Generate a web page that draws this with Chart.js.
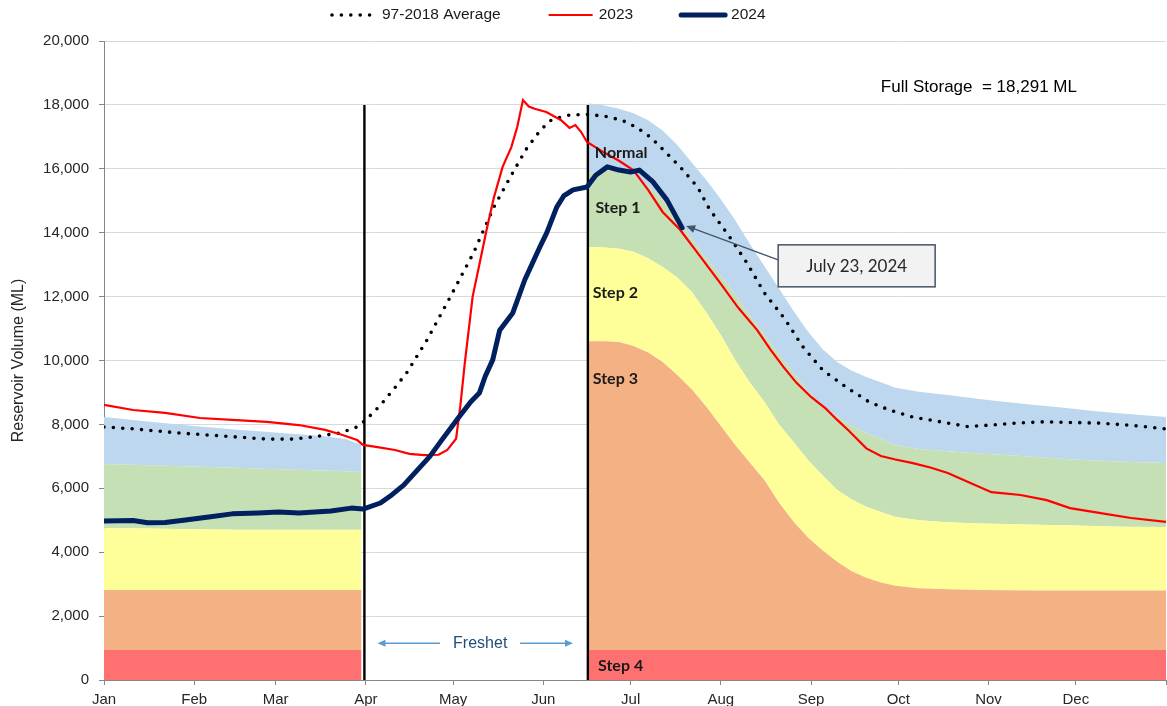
<!DOCTYPE html>
<html>
<head>
<meta charset="utf-8">
<title>Reservoir Volume</title>
<script src="https://cdn.jsdelivr.net/npm/chart.js@4.4.0/dist/chart.umd.min.js"></script>
<style>
  html, body { margin: 0; padding: 0; background: #fff; }
  #wrap { width: 1167px; height: 706px; }
</style>
</head>
<body>
<div id="wrap"><canvas id="chart" width="1167" height="706"></canvas></div>
<script>
// x axis is day of year (0 = Jan 1), y is reservoir volume in ML
const monthStarts = [0, 31, 59, 90, 120, 151, 181, 212, 243, 273, 304, 334, 365];
const monthNames = ['Jan', 'Feb', 'Mar', 'Apr', 'May', 'Jun', 'Jul', 'Aug', 'Sep', 'Oct', 'Nov', 'Dec', ''];

// 97-2018 average
const avgDays = [0, 10, 26, 45, 56, 65, 72, 81, 87, 90, 95, 100, 104, 111, 119, 127, 134, 140, 145, 150, 154, 160, 166, 172, 178, 183, 188, 193, 198, 204, 208, 215, 221, 227, 234, 240, 247, 255, 263, 270, 278, 290, 297, 305, 313, 323, 333, 342, 352, 365];
const avgVals = [7920, 7860, 7730, 7610, 7540, 7540, 7610, 7730, 7920, 8140, 8600, 9150, 9610, 10640, 11990, 13370, 14800, 15800, 16600, 17210, 17550, 17680, 17700, 17650, 17520, 17300, 16980, 16520, 16060, 15430, 14750, 13870, 13050, 12110, 11300, 10450, 9700, 9170, 8700, 8450, 8230, 8040, 7930, 7980, 8040, 8080, 8060, 8040, 7980, 7860];

// 2023
const days2023 = [0, 10, 21, 33, 44, 56, 67, 76, 82, 87, 89, 94, 100, 105, 110, 115, 118, 121, 122.5, 124, 126.7, 129, 131.5, 134, 137, 140, 142, 144, 146, 148, 152, 157, 160, 162, 164, 166, 171.5, 177, 182, 187, 192, 198, 204, 212, 218, 224.5, 229, 233.5, 238, 243, 248, 252, 256, 262, 267, 272, 278, 284, 290, 297, 305, 315, 324, 332, 342, 353, 365];
const vals2023 = [8610, 8450, 8360, 8200, 8140, 8080, 7980, 7830, 7670, 7510, 7360, 7290, 7200, 7080, 7040, 7050, 7200, 7550, 8600, 9920, 12000, 13000, 14090, 15100, 16060, 16680, 17300, 18150, 17950, 17880, 17780, 17530, 17280, 17370, 17150, 16840, 16530, 16250, 15950, 15340, 14650, 14090, 13370, 12400, 11650, 10950, 10350, 9800, 9300, 8860, 8500, 8140, 7800, 7250, 7010, 6900, 6790, 6650, 6480, 6200, 5880, 5790, 5630, 5380, 5230, 5070, 4950];

// 2024 (to July 23)
const days2024 = [0, 10, 15, 21, 28, 36, 44, 53, 60, 67, 78, 85, 89, 95, 99, 103, 108, 112, 116, 122, 126, 129, 131, 133.6, 136, 140.5, 144.6, 149.8, 152.2, 155.6, 158, 161.2, 166, 169, 173, 177, 181, 184, 188.7, 193.5, 198.7];
const vals2024 = [4980, 4990, 4920, 4930, 5010, 5100, 5200, 5230, 5260, 5230, 5290, 5380, 5350, 5540, 5800, 6100, 6600, 7000, 7500, 8230, 8700, 8980, 9500, 10020, 10950, 11490, 12520, 13550, 14000, 14800, 15150, 15340, 15430, 15800, 16060, 15960, 15900, 15960, 15590, 15020, 14150];

// drought response bands, Jan - Mar
const bandDaysA = [0, 15, 30, 45, 60, 75, 83, 88.5];
const normalTopA = [8230, 8090, 7960, 7840, 7740, 7640, 7540, 7360];
const step1TopA = [6760, 6720, 6680, 6640, 6600, 6560, 6530, 6510];
const step2TopA = [4750, 4740, 4720, 4700, 4700, 4700, 4700, 4700];
const step3TopA = [2820, 2820, 2820, 2820, 2820, 2820, 2820, 2820];
const step4TopA = [940, 940, 940, 940, 940, 940, 940, 940];

// drought response bands, mid Jun - Dec
const bandDaysB = [166.5, 172, 177, 182, 187, 192, 197, 202, 207, 212, 217, 222, 227, 232, 237, 242, 247, 252, 257, 262, 267, 272, 280, 290, 300, 310, 320, 330, 340, 350, 365];
const normalTopB = [18050, 17980, 17880, 17740, 17520, 17200, 16750, 16200, 15650, 15050, 14380, 13650, 12950, 12250, 11550, 10900, 10350, 9950, 9680, 9480, 9320, 9150, 9020, 8920, 8800, 8700, 8610, 8520, 8420, 8340, 8230];
const step1TopB = [15850, 15950, 15930, 15800, 15450, 15050, 14450, 13800, 13200, 12650, 12050, 11400, 10800, 10200, 9600, 9050, 8600, 8250, 7950, 7720, 7560, 7350, 7230, 7160, 7100, 7040, 6980, 6920, 6870, 6830, 6790];
const step2TopB = [13550, 13540, 13500, 13400, 13200, 12930, 12600, 12150, 11500, 10800, 10000, 9300, 8700, 8000, 7450, 6880, 6400, 5950, 5650, 5420, 5260, 5100, 5000, 4940, 4900, 4880, 4860, 4840, 4820, 4800, 4790];
const step3TopB = [10600, 10600, 10580, 10450, 10250, 9950, 9550, 9100, 8550, 7950, 7350, 6800, 6250, 5550, 4950, 4450, 4050, 3700, 3400, 3200, 3050, 2950, 2870, 2840, 2820, 2810, 2800, 2800, 2800, 2800, 2800];
const step4TopB = [940, 940, 940, 940, 940, 940, 940, 940, 940, 940, 940, 940, 940, 940, 940, 940, 940, 940, 940, 940, 940, 940, 940, 940, 940, 940, 940, 940, 940, 940, 940];

// freshet window markers
const freshetLines = [89.5, 166.3];
const freshetLineTop = 18000;

const stepNames = ['Normal', 'Step 1', 'Step 2', 'Step 3', 'Step 4'];
const stepLabelDays = [168.7, 168.9, 168, 168, 169.8];
const stepLabelVals = [16490, 14770, 12110, 9420, 440];

const bandColors = ['#ff7171', '#f4b183', '#ffff99', '#c5e0b4', '#bdd7ee'];

function pts(xs, ys) {
  return xs.map((d, i) => ({ x: d, y: ys[i] }));
}

function band(xs, ys, color, fill) {
  return {
    label: '',
    data: pts(xs, ys),
    backgroundColor: color,
    borderWidth: 0,
    pointRadius: 0,
    fill: fill,
    inLegend: false
  };
}

const datasets = [
  { label: '2024', data: pts(days2024, vals2024), borderColor: '#002060', borderWidth: 5, borderCapStyle: 'round', borderJoinStyle: 'round', pointRadius: 0, fill: false, inLegend: true },
  { label: '2023', data: pts(days2023, vals2023), borderColor: '#ff0000', borderWidth: 2.2, pointRadius: 0, fill: false, inLegend: true },
  { label: '97-2018 Average', data: pts(avgDays, avgVals), borderColor: '#000000', borderWidth: 3.6, borderDash: [0, 9.4], borderCapStyle: 'round', pointRadius: 0, fill: false, inLegend: true }
];

freshetLines.forEach(d => {
  datasets.push({ label: '', data: [{ x: d, y: 0 }, { x: d, y: freshetLineTop }], borderColor: '#000000', borderWidth: 2.4, pointRadius: 0, fill: false, inLegend: false });
});

[[bandDaysA, [step4TopA, step3TopA, step2TopA, step1TopA, normalTopA]],
 [bandDaysB, [step4TopB, step3TopB, step2TopB, step1TopB, normalTopB]]].forEach(([xs, tops]) => {
  tops.forEach((ys, i) => datasets.push(band(xs, ys, bandColors[i], i === 0 ? 'origin' : '-1')));
});

function arrow(ctx, x1, y1, x2, y2, head) {
  const a = Math.atan2(y2 - y1, x2 - x1);
  ctx.beginPath();
  ctx.moveTo(x1, y1);
  ctx.lineTo(x2 - Math.cos(a) * head * 0.8, y2 - Math.sin(a) * head * 0.8);
  ctx.stroke();
  ctx.beginPath();
  ctx.moveTo(x2, y2);
  ctx.lineTo(x2 - head * Math.cos(a) + head * 0.45 * Math.sin(a), y2 - head * Math.sin(a) - head * 0.45 * Math.cos(a));
  ctx.lineTo(x2 - head * Math.cos(a) - head * 0.45 * Math.sin(a), y2 - head * Math.sin(a) + head * 0.45 * Math.cos(a));
  ctx.closePath();
  ctx.fill();
}

const notes = {
  id: 'notes',
  afterDatasetsDraw(chart) {
    const { ctx, scales: { x, y } } = chart;
    ctx.save();

    // step names
    ctx.font = 'bold 16px Lato, "Liberation Sans", sans-serif';
    ctx.fillStyle = '#1a1a1a';
    ctx.textAlign = 'left';
    ctx.textBaseline = 'middle';
    stepNames.forEach((t, i) => {
      ctx.fillText(t, x.getPixelForValue(stepLabelDays[i]), y.getPixelForValue(stepLabelVals[i]));
    });

    // freshet
    const fy = y.getPixelForValue(1150);
    ctx.strokeStyle = '#5b9bd5';
    ctx.fillStyle = '#5b9bd5';
    ctx.lineWidth = 1.3;
    arrow(ctx, x.getPixelForValue(115.5), fy, x.getPixelForValue(94), fy, 8);
    arrow(ctx, x.getPixelForValue(143), fy, x.getPixelForValue(161.2), fy, 8);
    ctx.font = '16px "Liberation Sans", Arial, sans-serif';
    ctx.fillStyle = '#1f4e79';
    ctx.textAlign = 'center';
    ctx.fillText('Freshet', x.getPixelForValue(129.3), fy);

    // full storage
    ctx.font = '17px "Liberation Sans", Arial, sans-serif';
    ctx.fillStyle = '#000000';
    ctx.textAlign = 'left';
    ctx.fillText('Full Storage  = 18,291 ML', x.getPixelForValue(267), y.getPixelForValue(18560));

    // latest 2024 reading callout
    const endX = x.getPixelForValue(days2024[days2024.length - 1]);
    const endY = y.getPixelForValue(vals2024[vals2024.length - 1]);
    const bx = x.getPixelForValue(231.7), by = y.getPixelForValue(13620);
    const bw = 157, bh = 42;
    ctx.strokeStyle = '#44546a';
    ctx.fillStyle = '#44546a';
    ctx.lineWidth = 1.3;
    arrow(ctx, bx, by + 15, endX + 4, endY - 2, 9);
    ctx.fillStyle = '#f2f2f2';
    ctx.fillRect(bx, by, bw, bh);
    ctx.lineWidth = 1.5;
    ctx.strokeRect(bx, by, bw, bh);
    ctx.font = '17px Lato, "Open Sans", sans-serif';
    ctx.fillStyle = '#262626';
    ctx.textAlign = 'center';
    ctx.fillText('July 23, 2024', bx + bw / 2, by + bh / 2 + 1);

    ctx.restore();
  }
};

// legend drawn to match the original spacing
const topLegend = {
  id: 'topLegend',
  afterDraw(chart) {
    const ctx = chart.ctx;
    const items = chart.data.datasets.filter(d => d.inLegend).reverse();
    let cx = 330;
    const ly = 15;
    ctx.save();
    ctx.font = '15.5px "Liberation Sans", Arial, sans-serif';
    ctx.textBaseline = 'middle';
    ctx.textAlign = 'left';
    items.forEach(d => {
      ctx.strokeStyle = d.borderColor;
      ctx.lineWidth = d.borderWidth;
      ctx.lineCap = d.borderCapStyle || 'butt';
      ctx.setLineDash(d.borderDash || []);
      ctx.beginPath();
      ctx.moveTo(cx + 2, ly);
      ctx.lineTo(cx + 46, ly);
      ctx.stroke();
      ctx.setLineDash([]);
      ctx.fillStyle = '#1a1a1a';
      ctx.fillText(d.label, cx + 52, ly);
      cx += 52 + ctx.measureText(d.label).width + 46;
    });
    ctx.restore();
  }
};

new Chart(document.getElementById('chart'), {
  type: 'line',
  data: { datasets: datasets },
  options: {
    responsive: false,
    animation: false,
    layout: { padding: { top: 41, right: 1, left: 0, bottom: 0 } },
    plugins: {
      legend: { display: false },
      tooltip: { enabled: false }
    },
    elements: { line: { tension: 0 } },
    scales: {
      x: {
        type: 'linear',
        min: 0,
        max: 365,
        afterBuildTicks: (scale) => { scale.ticks = monthStarts.map(v => ({ value: v })); },
        afterFit: (scale) => { scale.height = 26; scale.paddingRight = 0; },
        ticks: {
          autoSkip: false,
          maxRotation: 0,
          padding: 6,
          color: '#262626',
          font: { family: '"Liberation Sans", Arial, sans-serif', size: 15 },
          callback: (v) => monthNames[monthStarts.indexOf(v)]
        },
        grid: { drawOnChartArea: false, drawTicks: true, tickLength: 5, color: '#868686' },
        border: { color: '#868686' }
      },
      y: {
        min: 0,
        max: 20000,
        afterFit: (scale) => { scale.width = 104; },
        ticks: {
          stepSize: 2000,
          padding: 10,
          color: '#262626',
          font: { family: '"Liberation Sans", Arial, sans-serif', size: 15 }
        },
        grid: { color: '#d9d9d9', tickColor: '#868686', tickLength: 5 },
        border: { color: '#868686' },
        title: {
          display: true,
          text: 'Reservoir Volume (ML)',
          color: '#262626',
          padding: { top: 9, bottom: 0 },
          font: { family: '"Liberation Sans", Arial, sans-serif', size: 16 }
        }
      }
    }
  },
  plugins: [notes, topLegend]
});
</script>
</body>
</html>
